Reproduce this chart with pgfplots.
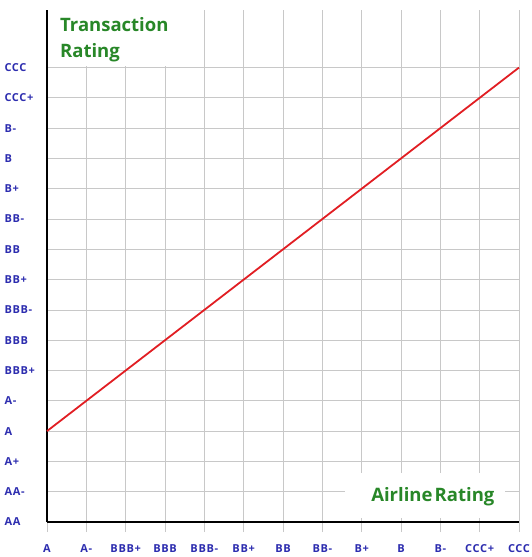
\documentclass[border=0pt]{standalone}
\usepackage{pgfplots}
\pgfplotsset{compat=1.18}
\usetikzlibrary{calc}
\usepackage{fontspec}
\setmainfont{Open Sans}
\newfontfamily\tickfont[LetterSpace=6]{Open Sans}
\definecolor{tickblue}{RGB}{45,45,175}
\definecolor{titlegreen}{RGB}{40,135,40}
\definecolor{linered}{RGB}{225,30,35}
\definecolor{gridgray}{RGB}{200,200,200}
\begin{document}
\begin{tikzpicture}
\begin{axis}[
  name=ax,
  scale only axis, width=472pt, height=512pt,
  xmin=0, xmax=12, ymin=0, ymax=16.9,
  axis lines=left,
  axis line style={-, black, line width=1.2pt},
  clip=false,
  xtick={0,...,12},
  xticklabels={A,A-,BBB+,BBB,BBB-,BB+,BB,BB-,B+,B,B-,CCC+,CCC},
  ytick={0,...,15},
  yticklabels={AA,AA-,A+,A,A-,BBB+,BBB,BBB-,BB+,BB,BB-,B+,B,B-,CCC+,CCC},
  grid=major,
  major grid style={gridgray, line width=0.8pt},
  tick align=outside,
  major tick length=10pt,
  xtick style={gridgray, line width=0.8pt},
  ytick style={draw=none},
  ticklabel style={font=\tickfont\bfseries\fontsize{11}{13}\selectfont, text=tickblue},
  xticklabel style={yshift=-9pt},
  yticklabel style={anchor=west, xshift=-36pt},
]
\addplot[linered, line width=1.8pt] coordinates {(0,3) (12,15)};
\fill[white] (axis cs:0.02,15.06) rectangle (axis cs:3.9,17.3);
\node[anchor=north west, align=left, text=titlegreen, inner sep=0pt,
      font=\bfseries\fontsize{18.5}{26}\selectfont] at (axis cs:0.33,16.65) {Transaction\\Rating};
\fill[white] (axis cs:7.58,0.13) rectangle (axis cs:11.64,1.62);
\node[text=titlegreen, inner sep=0pt, font=\bfseries\fontsize{18.5}{20}\selectfont]
  at (axis cs:9.81,0.83) {Airline\hspace{0.12em}Rating};
\end{axis}
\pgfresetboundingbox
\path ($(ax.south west)+(-47pt,-35pt)$) rectangle ($(ax.north east)+(13pt,10pt)$);
\end{tikzpicture}
\end{document}
